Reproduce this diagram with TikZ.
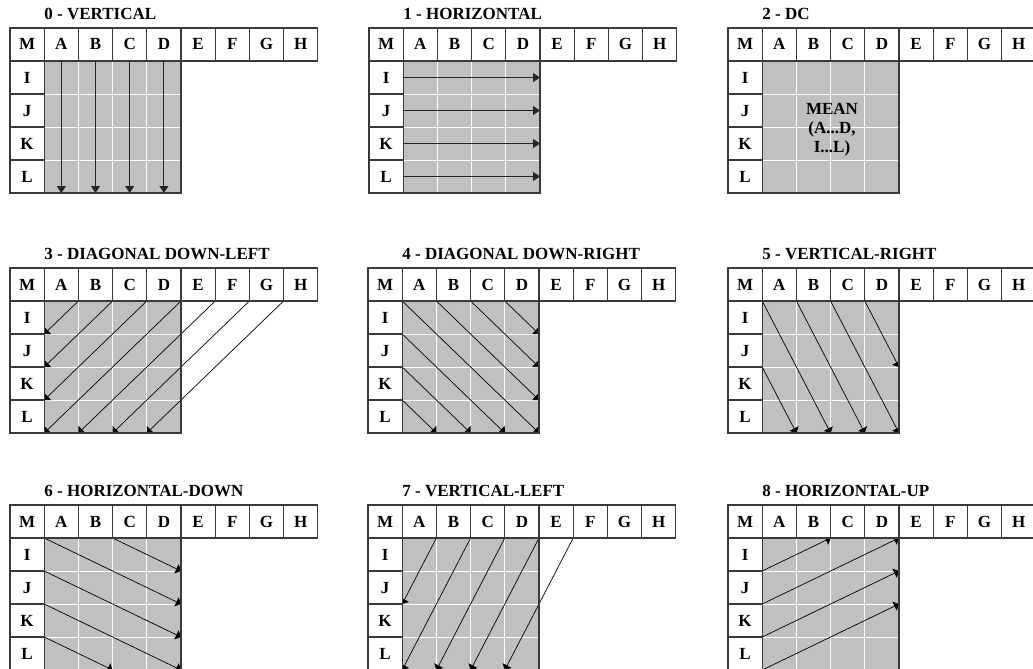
\documentclass[tikz,border=0pt]{standalone}
\usepackage{fontspec}
\setmainfont{Liberation Serif}
\usetikzlibrary{arrows.meta}
\definecolor{blockgray}{HTML}{C0C0C0}
\definecolor{framegray}{HTML}{3A3A3A}
\tikzset{
  blockfill/.style={fill=blockgray},
  innerline/.style={draw=white, line width=1pt},
  frameline/.style={draw=framegray, line width=1.2pt},
  cellbox/.style={draw=framegray, line width=1.2pt, fill=white, minimum width=34.2pt, minimum height=33pt, inner sep=0pt, text height=11pt, text depth=0pt, font=\bfseries\fontsize{17}{20}\selectfont},
  titletext/.style={inner sep=0pt, text height=11pt, text depth=0pt, font=\bfseries\fontsize{17}{20}\selectfont},
  predarrow/.style={draw=black, line width=0.7pt, -{Triangle[length=5pt,width=10pt]}},
  straightarrow/.style={draw=black!85, line width=1pt, -{Triangle[length=7pt,width=9pt]}},
}
\newcommand{\ipanel}[5]{%
  \begin{scope}[xshift=#2pt, yshift=-#3pt, x=34.2pt, y=-33pt]
    \fill[blockfill] (1,1) rectangle (5,5);
    \foreach \i in {2,3,4}{\draw[innerline] (\i,1) -- (\i,5); \draw[innerline] (1,\i) -- (5,\i);}
    \begin{scope}
      \clip (1,1) rectangle (9,5);
      #5
    \end{scope}
    \draw[frameline] (1,1) rectangle (5,5);
    \foreach \l [count=\c from 0] in {M,A,B,C,D,E,F,G,H}{\node[cellbox] (#1\l) at (\c+0.5,0.5) {\l};}
    \foreach \l [count=\r from 1] in {I,J,K,L}{\node[cellbox] (#1\l) at (0.5,\r+0.5) {\l};}
    \node[titletext, anchor=west] (#1title) at (1,-0.42) {#4};
  \end{scope}}
\begin{document}
\begin{tikzpicture}[x=1pt, y=-1pt]
\useasboundingbox (0,0) rectangle (1033,669);
% 0 - vertical
\ipanel{pa}{10}{28}{0 - VERTICAL}{%
  \foreach \c in {1.5,2.5,3.5,4.5}{\draw[straightarrow] (\c,1) -- (\c,5);}}
% 1 - horizontal
\ipanel{pb}{369}{28}{1 - HORIZONTAL}{%
  \foreach \r in {1.5,2.5,3.5,4.5}{\draw[straightarrow] (1,\r) -- (5,\r);}}
% 2 - DC
\ipanel{pc}{728}{28}{2 - DC}{}
\node[align=center, inner sep=0pt, font=\bfseries\fontsize{17}{19}\selectfont] (meantext) at (832,130) {MEAN\\(A...D,\\I...L)};
% 3 - diagonal down-left
\ipanel{pd}{10}{268}{3 - DIAGONAL DOWN-LEFT}{%
  \draw[predarrow] (2,1) -- (1,2);
  \draw[predarrow] (3,1) -- (1,3);
  \draw[predarrow] (4,1) -- (1,4);
  \draw[predarrow] (5,1) -- (1,5);
  \draw[predarrow] (6,1) -- (2,5);
  \draw[predarrow] (7,1) -- (3,5);
  \draw[predarrow] (8,1) -- (4,5);}
% 4 - diagonal down-right
\ipanel{pe}{368}{268}{4 - DIAGONAL DOWN-RIGHT}{%
  \clip (1,1) rectangle (5,5);
  \draw[predarrow] (1,1) -- (5,5);
  \draw[predarrow] (2,1) -- (5,4);
  \draw[predarrow] (3,1) -- (5,3);
  \draw[predarrow] (4,1) -- (5,2);
  \draw[predarrow] (1,2) -- (4,5);
  \draw[predarrow] (1,3) -- (3,5);
  \draw[predarrow] (1,4) -- (2,5);}
% 5 - vertical-right
\ipanel{pf}{728}{268}{5 - VERTICAL-RIGHT}{%
  \clip (1,1) rectangle (5,5);
  \draw[predarrow] (1,1) -- (3,5);
  \draw[predarrow] (2,1) -- (4,5);
  \draw[predarrow] (3,1) -- (5,5);
  \draw[predarrow] (4,1) -- (5,3);
  \draw[predarrow] (1,3) -- (2,5);}
% 6 - horizontal-down
\ipanel{pg}{10}{505}{6 - HORIZONTAL-DOWN}{%
  \clip (1,1) rectangle (5,5);
  \draw[predarrow] (3,1) -- (5,2);
  \draw[predarrow] (1,1) -- (5,3);
  \draw[predarrow] (1,2) -- (5,4);
  \draw[predarrow] (1,3) -- (5,5);
  \draw[predarrow] (1,4) -- (3,5);}
% 7 - vertical-left
\ipanel{ph}{368}{505}{7 - VERTICAL-LEFT}{%
  \draw[predarrow] (2,1) -- (1,3);
  \draw[predarrow] (3,1) -- (1,5);
  \draw[predarrow] (4,1) -- (2,5);
  \draw[predarrow] (5,1) -- (3,5);
  \draw[predarrow] (6,1) -- (4,5);}
% 8 - horizontal-up
\ipanel{pi}{728}{505}{8 - HORIZONTAL-UP}{%
  \clip (1,1) rectangle (5,5);
  \draw[predarrow] (1,2) -- (3,1);
  \draw[predarrow] (1,3) -- (5,1);
  \draw[predarrow] (1,4) -- (5,2);
  \draw[predarrow] (1,5) -- (5,3);}
\end{tikzpicture}
\end{document}
